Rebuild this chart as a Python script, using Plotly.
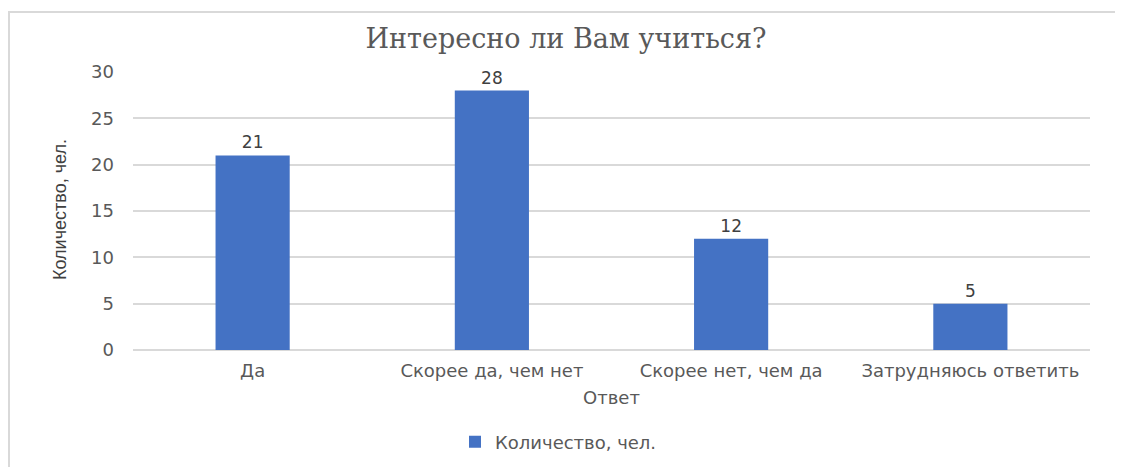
import plotly.graph_objects as go

# Survey answers: "Интересно ли Вам учиться?"
categories = ["Да", "Скорее да, чем нет", "Скорее нет, чем да", "Затрудняюсь ответить"]
counts = [21, 28, 12, 5]
y_ticks = [0, 5, 10, 15, 20, 25, 30]

BAR_BLUE = "#4472c4"
GRID = "#d9d9d9"
TEXT = "#595959"
SANS = "DejaVu Sans, Segoe UI, sans-serif"

fig = go.Figure()

fig.add_trace(go.Bar(
    x=categories, y=counts,
    name="Количество, чел.",
    marker=dict(color=BAR_BLUE, line=dict(width=0)),
    text=counts, textposition="outside",
    textfont=dict(family=SANS, size=17, color="#404040"),
    cliponaxis=False,
))

# the page body has an 8px margin, so work in window pixels and shift
OFF = 8
W, H = 1123 - OFF, 467 - OFF
L, R, T, B = 133 - OFF, 33, 72 - OFF, 117
pw, ph = W - L - R, H - T - B

def px_x(p):
    return (p - OFF - L) / pw

def px_y(p):
    return (H - B - (p - OFF)) / ph

fig.update_layout(
    width=W, height=H,
    margin=dict(l=L, r=R, t=T, b=B, autoexpand=False),
    paper_bgcolor="white", plot_bgcolor="white",
    bargap=0.69,
    title=dict(
        text="Интересно ли Вам учиться?",
        font=dict(family="DejaVu Serif, Times New Roman, serif", size=27, color=TEXT),
        x=px_x(566), xref="paper", xanchor="center",
        y=1 - (39 - OFF) / H, yanchor="middle",
    ),
    showlegend=True,
    legend=dict(
        orientation="h", x=px_x(455), y=px_y(442), xanchor="left", yanchor="middle",
        font=dict(family=SANS, size=18, color=TEXT),
        itemwidth=30,
    ),
    xaxis=dict(
        tickfont=dict(family=SANS, size=18, color=TEXT),
        showgrid=False, showline=False, zeroline=False,
        ticklabelstandoff=8, automargin=False,
        title=dict(text="Ответ", font=dict(family=SANS, size=18, color=TEXT), standoff=11),
    ),
    yaxis=dict(
        range=[0, 30], tickvals=y_ticks,
        tickfont=dict(family=SANS, size=18, color=TEXT),
        showgrid=True, gridcolor=GRID, gridwidth=1.5,
        zeroline=True, zerolinecolor=GRID, zerolinewidth=1.5,
        showline=False, automargin=False,
        ticklabelstandoff=18,
    ),
    annotations=[dict(
        text="Количество, чел.", textangle=-90,
        xref="paper", yref="paper", x=px_x(60), y=px_y(210),
        xanchor="center", yanchor="middle", showarrow=False,
        font=dict(family="Liberation Sans Narrow, Arial Narrow, sans-serif", size=18, color="#404040"),
    )],
    shapes=[dict(
        type="rect", xref="paper", yref="paper",
        x0=px_x(9), x1=px_x(1120), y0=px_y(490), y1=px_y(12),
        line=dict(color=GRID, width=2), fillcolor="rgba(0,0,0,0)", layer="below",
    )],
)

fig.write_html("out.html")
